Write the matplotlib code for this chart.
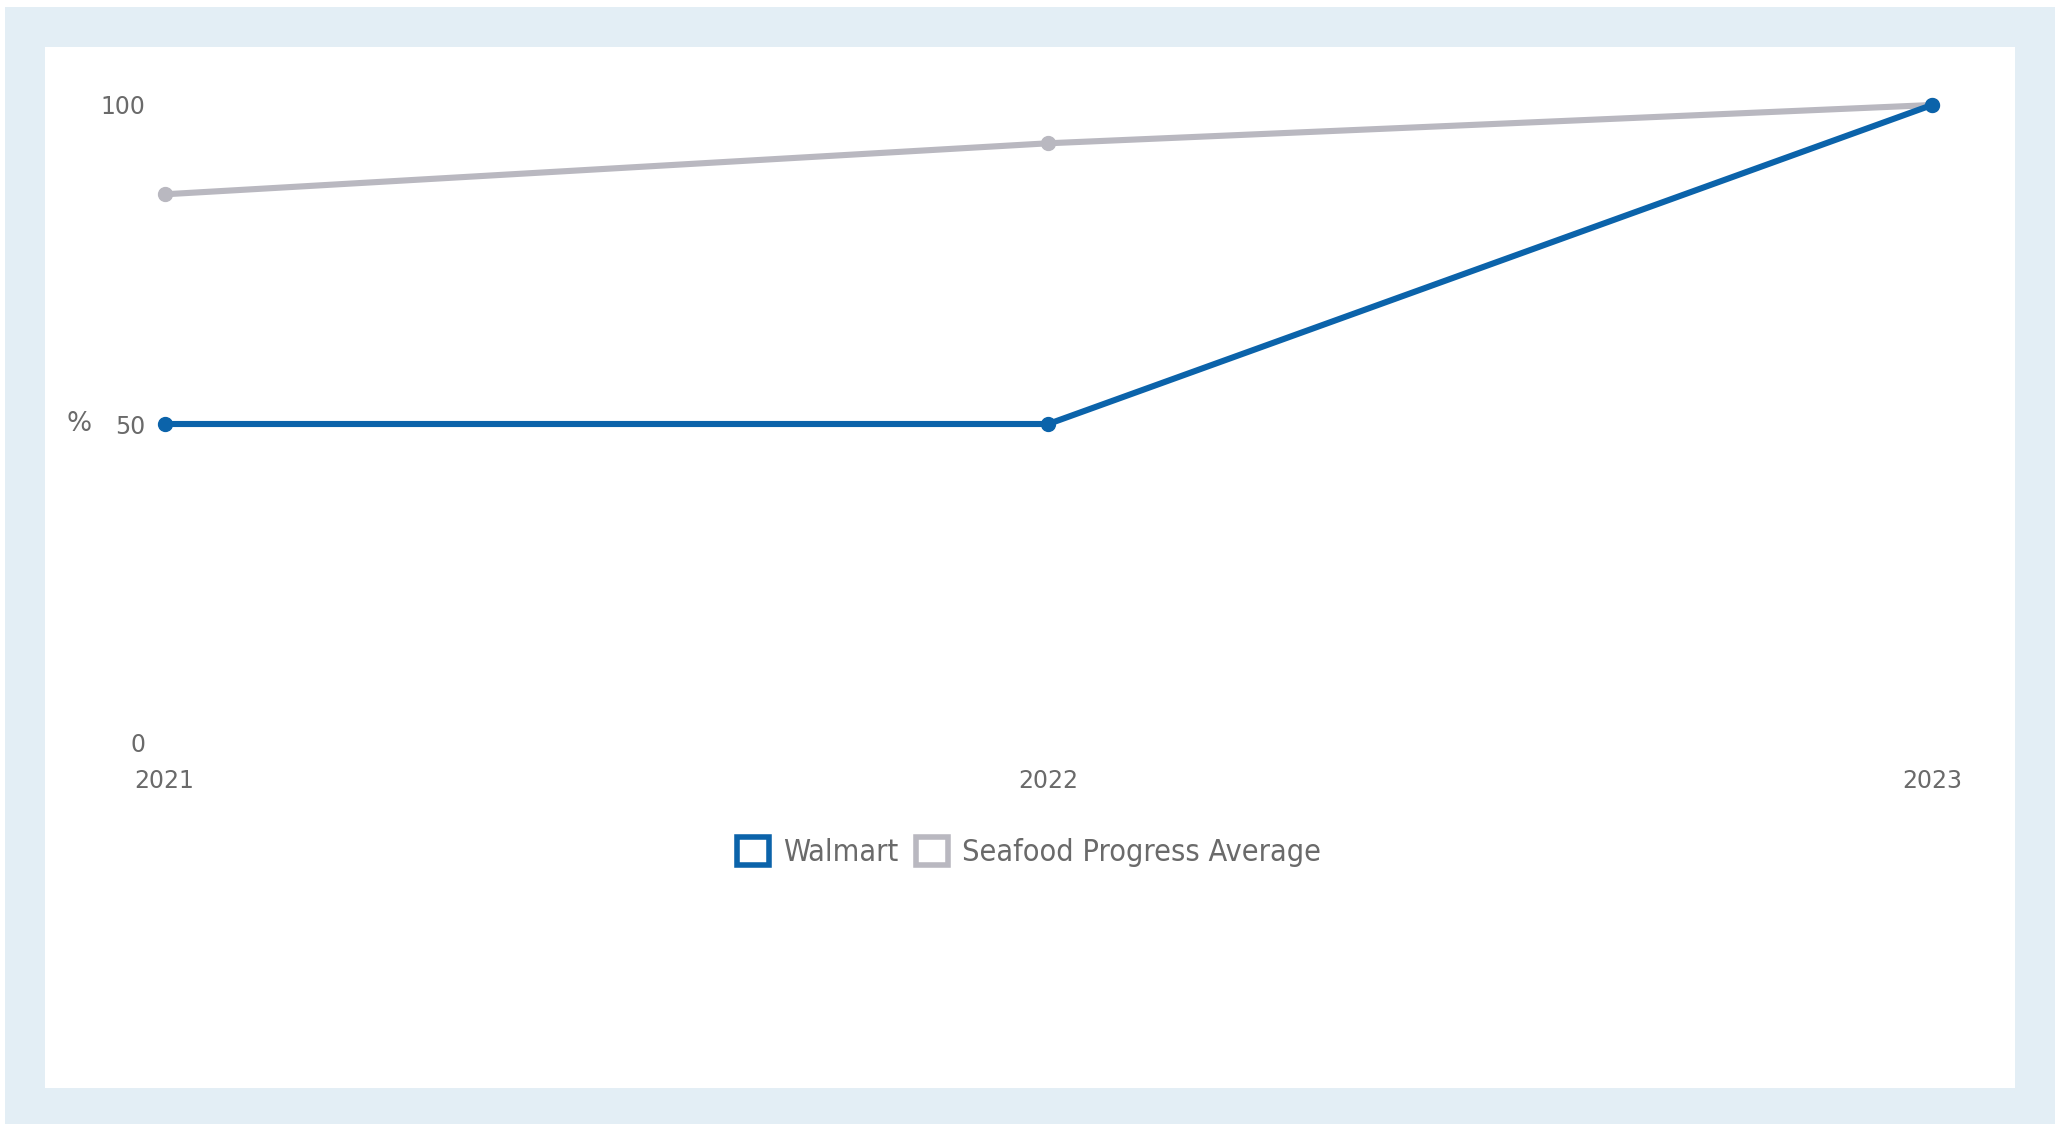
import matplotlib
matplotlib.use("Agg")
import matplotlib.pyplot as plt
from matplotlib.patches import Rectangle
from matplotlib.font_manager import FontProperties

years = [2021, 2022, 2023]
walmart = [50, 50, 100]
seafood_avg = [86, 94, 100]
y_ticks = [0, 50, 100]
series_names = ["Walmart", "Seafood Progress Average"]

BLUE = "#0b63aa"
GREY = "#b9b8c0"
FRAME = "#e3eef5"
TEXT = "#6a6a6a"

W, H = 2065, 1124
fig = plt.figure(figsize=(W / 100, H / 100), dpi=100, facecolor="white")

# light blue frame with white panel inside
fig.patches.append(Rectangle((5 / W, 0), (2055 - 5) / W, (H - 7) / H,
                             transform=fig.transFigure, facecolor=FRAME,
                             edgecolor="none", zorder=-10))
fig.patches.append(Rectangle((45 / W, 1 - 1088 / H), (2015 - 45) / W, (1088 - 47) / H,
                             transform=fig.transFigure, facecolor="white",
                             edgecolor="none", zorder=-9))

x0, x1 = 164.6, 1932.0
ytop, ybot = 105.0, 743.0
ax = fig.add_axes([x0 / W, 1 - ybot / H, (x1 - x0) / W, (ybot - ytop) / H])
ax.set_facecolor("none")
ax.set_zorder(5)

ax.plot(years, seafood_avg, color=GREY, lw=4.4, marker="o", ms=10,
        solid_capstyle="round", clip_on=False, zorder=2)
ax.plot(years, walmart, color=BLUE, lw=4.4, marker="o", ms=10,
        solid_capstyle="round", clip_on=False, zorder=3)

ax.set_xlim(years[0], years[-1])
ax.set_ylim(0, 100)
ax.set_xticks(years)
ax.set_xticklabels([str(y) for y in years])
ax.set_yticks(y_ticks)
ax.set_yticklabels([str(v) for v in y_ticks])
for s in ax.spines.values():
    s.set_visible(False)
ax.tick_params(axis="both", length=0, colors=TEXT, labelsize=17)
ax.tick_params(axis="y", pad=14)
ax.tick_params(axis="x", pad=19)

ax.text(-0.0484, 50, "%", transform=ax.get_yaxis_transform(), ha="center",
        va="center", color=TEXT, fontsize=19)

handles = [Rectangle((0, 0), 1, 1, facecolor="white", edgecolor=c, linewidth=4)
           for c in (BLUE, GREY)]
legend_font = FontProperties(family=["DejaVu Sans"], stretch="condensed", size=22)
leg = fig.legend(handles, series_names, loc="center",
                 bbox_to_anchor=(1029 / W, 1 - 852 / H), ncol=2, frameon=False,
                 handlelength=1.05, handleheight=1.05, handletextpad=0.45,
                 columnspacing=0.6, prop=legend_font, labelcolor=TEXT)
leg.set_zorder(6)

fig.savefig("out.png", dpi=100, facecolor="white")
